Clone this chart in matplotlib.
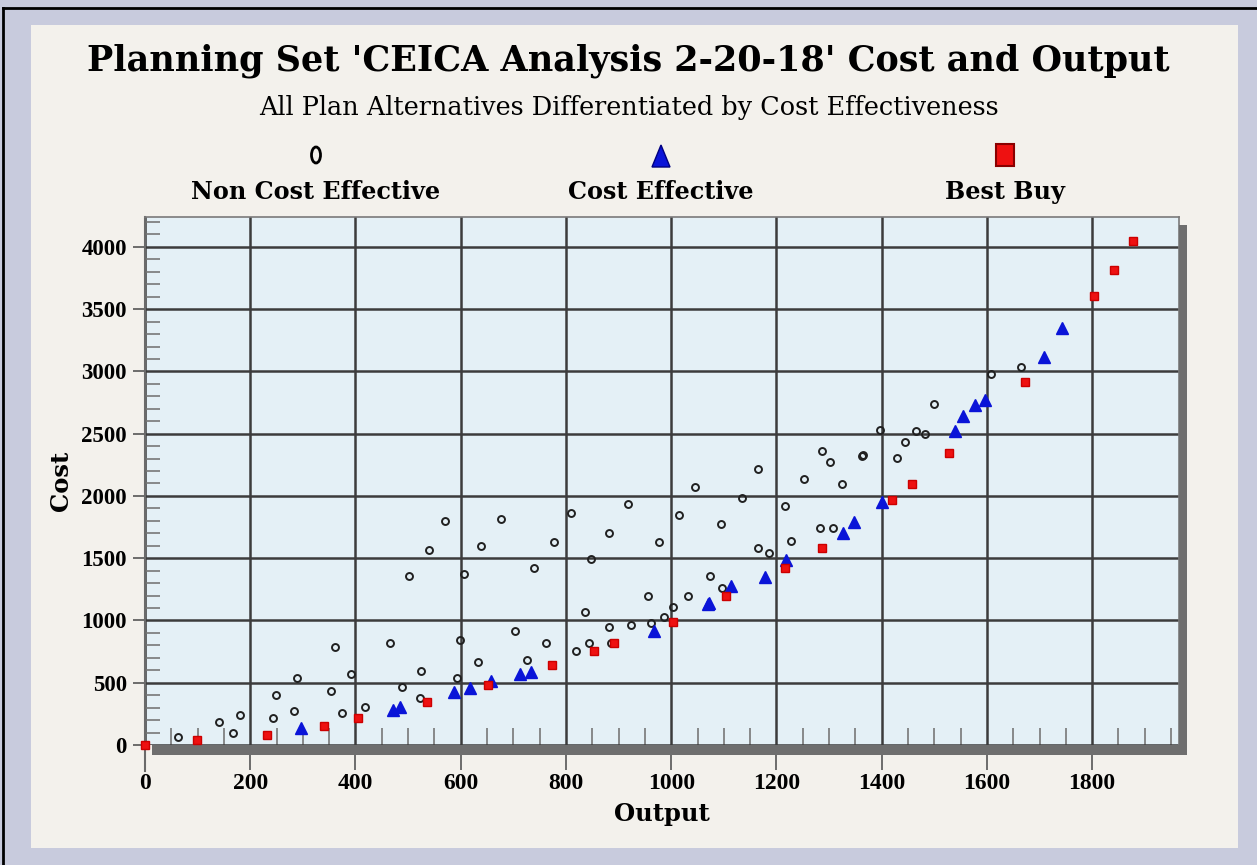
import matplotlib
matplotlib.use("Agg")
import matplotlib.pyplot as plt
from matplotlib.lines import Line2D
from matplotlib.patches import Rectangle, Ellipse, Polygon

# data (output, cost)
non_ce_x = [62, 141, 167, 180, 243, 249, 284, 288, 354, 362, 375, 392, 418, 466, 488,
            501, 522, 525, 540, 571, 592, 599, 606, 633, 639, 676, 704, 725, 739, 763,
            777, 809, 819, 837, 844, 847, 882, 882, 886, 917, 924, 956, 962, 977, 986,
            1004, 1015, 1032, 1046, 1074, 1095, 1097, 1134, 1164, 1164, 1185, 1217, 1228,
            1253, 1282, 1287, 1301, 1307, 1325, 1362, 1364, 1396, 1430, 1444, 1465, 1483,
            1500, 1608, 1664]
non_ce_y = [67, 185, 96, 243, 217, 404, 275, 535, 436, 789, 259, 570, 302, 816, 463,
            1359, 375, 596, 1565, 1798, 535, 845, 1372, 669, 1597, 1814, 917, 682, 1418, 816,
            1627, 1862, 757, 1065, 816, 1490, 947, 1699, 818, 1934, 965, 1198, 982, 1627, 1025,
            1110, 1848, 1198, 2068, 1359, 1774, 1257, 1980, 1578, 2213, 1538, 1918, 1640,
            2140, 1744, 2362, 2274, 1744, 2095, 2322, 2330, 2533, 2301, 2434, 2520, 2494,
            2742, 2978, 3036]

ce_x = [297, 471, 485, 588, 618, 657, 713, 734, 967, 1069, 1072, 1113, 1179, 1218,
        1326, 1347, 1400, 1540, 1554, 1578, 1596, 1708, 1743]
ce_y = [134, 281, 302, 423, 455, 514, 572, 588, 917, 1131, 1142, 1273, 1351, 1485,
        1704, 1787, 1950, 2523, 2640, 2729, 2774, 3114, 3349]

bb_x = [0, 99, 232, 340, 404, 536, 651, 773, 854, 892, 1004, 1105, 1217, 1287,
        1419, 1458, 1528, 1672, 1803, 1842, 1877]
bb_y = [0, 38, 80, 155, 217, 348, 482, 642, 757, 816, 990, 1198, 1418, 1578,
        1966, 2095, 2346, 2916, 3606, 3812, 4047]

x_ticks = [0, 200, 400, 600, 800, 1000, 1200, 1400, 1600, 1800]
y_ticks = [0, 500, 1000, 1500, 2000, 2500, 3000, 3500, 4000]

title = "Planning Set 'CEICA Analysis 2-20-18' Cost and Output"
subtitle = "All Plan Alternatives Differentiated by Cost Effectiveness"
legend_labels = ["Non Cost Effective", "Cost Effective", "Best Buy"]

plt.rcParams['font.family'] = ['Liberation Serif', 'DejaVu Serif']
wide = ['DejaVu Serif']  # wider face, closer to the Palatino look of the headings

W, H = 1257, 865
fig = plt.figure(figsize=(W / 100, H / 100), dpi=100)
fig.patch.set_facecolor('#c8cbdd')

# beige paper panel and black outer border
fig.add_artist(Rectangle((31 / W, 1 - 848 / H), (1238 - 31) / W, (848 - 25) / H,
                         transform=fig.transFigure, facecolor='#f3f1ec', edgecolor='none', zorder=-5))
fig.add_artist(Line2D([3 / W, 3 / W], [0, 1 - 8 / H], transform=fig.transFigure, color='black', lw=2))
fig.add_artist(Line2D([3 / W, 1], [1 - 8 / H, 1 - 8 / H], transform=fig.transFigure, color='black', lw=2))

# axes placement
L, R, T, B = 145, 1179, 217, 745
ax = fig.add_axes([L / W, 1 - B / H, (R - L) / W, (B - T) / H])
ax.set_facecolor('#e4f0f6')
ax.set_xlim(0, 1965)
ax.set_ylim(0, 4240)

for s in ['top', 'right']:
    ax.spines[s].set_color('#7a7a7a')
    ax.spines[s].set_linewidth(1.2)
ax.spines['bottom'].set_visible(False)
ax.spines['left'].set_color('#6a6a6a')
ax.spines['left'].set_linewidth(1.5)

# drop shadow along bottom and right
dx = 8 / (R - L)
dy = 10 / (B - T)
ax.add_patch(Rectangle((7 / (R - L), -dy), 1 + dx - 7 / (R - L), dy, transform=ax.transAxes,
                       facecolor='#6e6e6e', edgecolor='none', clip_on=False, zorder=4))
ax.add_patch(Rectangle((1, -dy), dx, 1 - 8 / (B - T) + dy, transform=ax.transAxes,
                       facecolor='#6e6e6e', edgecolor='none', clip_on=False, zorder=4))
# left axis line running below the plot
ax.plot([0, 0], [-0.05, 0], transform=ax.transAxes, color='#6a6a6a', lw=1.5, clip_on=False, zorder=5)

ax.grid(True, which='major', color='#3c3c3c', lw=1.8, zorder=1)
ax.set_axisbelow(True)

ax.set_xticks(x_ticks)
ax.set_yticks(y_ticks)
ax.set_xticks(range(50, 1965, 50), minor=True)
ax.set_yticks(range(100, 4240, 100), minor=True)
ax.tick_params(axis='x', which='major', direction='out', length=18, width=1.2, color='#555555',
               labelsize=17, pad=2)
ax.tick_params(axis='y', which='major', direction='out', length=9, width=1.2, color='#555555',
               labelsize=16.5, pad=4)
ax.tick_params(axis='x', which='minor', direction='in', length=12, width=1.2, color='#777777')
ax.tick_params(axis='y', which='minor', direction='in', length=11, width=1.2, color='#777777')
for lab in ax.get_xticklabels() + ax.get_yticklabels():
    lab.set_fontweight('bold')

ax.set_xlabel('Output', fontsize=17.5, fontweight='bold', labelpad=6, family=wide)
ax.set_ylabel('Cost', fontsize=17.5, fontweight='bold', labelpad=6, family=wide)

# the three series
ax.plot(non_ce_x, non_ce_y, 'o', ms=5, mfc='none', mec='#202020', mew=1.4, zorder=6, clip_on=False)
ax.plot(ce_x, ce_y, '^', ms=8, color='#0a14d8', mec='#0a14d8', zorder=7, clip_on=False)
ax.plot(bb_x, bb_y, 's', ms=6, color='#ee1111', mec='#cc0000', zorder=8, clip_on=False)

# titles
fig.text(0.5, 1 - 61 / H, title, ha='center', va='center', fontsize=25.2, fontweight='bold', family=wide)
fig.text(0.5, 1 - 108 / H, subtitle, ha='center', va='center', fontsize=18.4, family=wide)

# legend row
lx = [316, 661, 1005]
for x, lab in zip(lx, legend_labels):
    fig.text(x / W, 1 - 192 / H, lab, ha='center', va='center', fontsize=17.2, fontweight='bold',
             family=wide)
fig.add_artist(Ellipse((lx[0] / W, 1 - 155 / H), 9 / W, 16 / H, transform=fig.transFigure,
                       facecolor='none', edgecolor='black', lw=2))
fig.add_artist(Polygon([((lx[1] - 9) / W, 1 - 167 / H), ((lx[1] + 9) / W, 1 - 167 / H),
                        (lx[1] / W, 1 - 145 / H)], closed=True, transform=fig.transFigure,
                       facecolor='#0a14d8', edgecolor='#000080', lw=1))
fig.add_artist(Rectangle(((lx[2] - 9) / W, 1 - 166 / H), 18 / W, 22 / H, transform=fig.transFigure,
                         facecolor='#ee1111', edgecolor='#8a0000', lw=1.5))

fig.savefig('out.png', dpi=100, facecolor=fig.get_facecolor())
